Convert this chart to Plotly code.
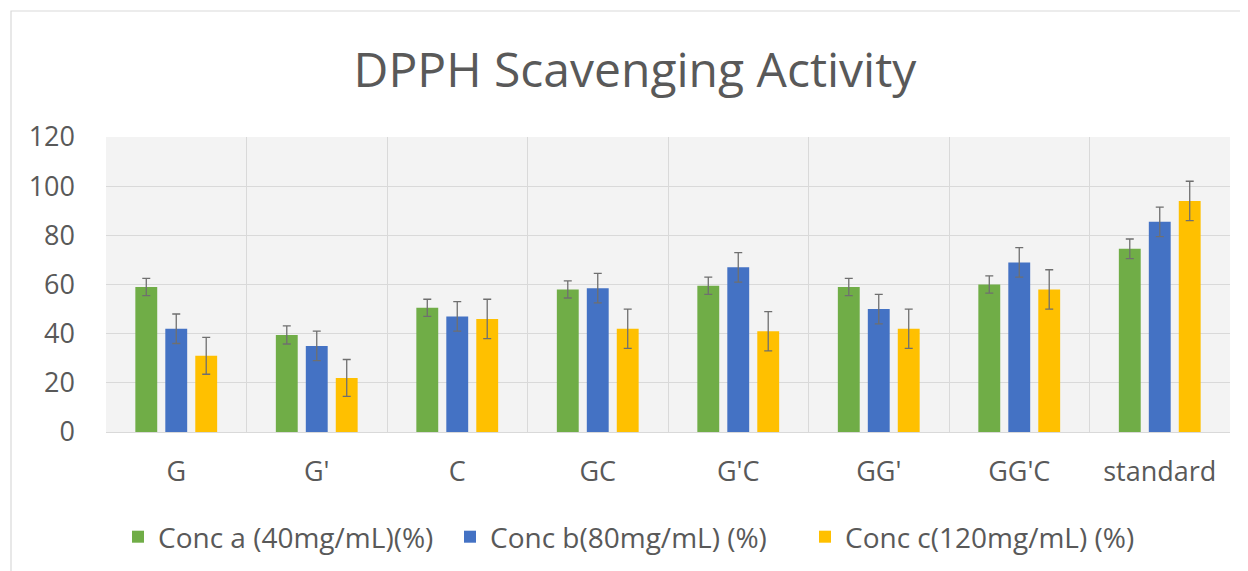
import plotly.graph_objects as go

categories = ["G", "G'", "C", "GC", "G'C", "GG'", "GG'C", "standard"]
conc_a = [59, 39.5, 50.5, 58, 59.5, 59, 60, 74.5]
conc_b = [42, 35, 47, 58.5, 67, 50, 69, 85.5]
conc_c = [31, 22, 46, 42, 41, 42, 58, 94]
err_a = [3.5, 3.7, 3.5, 3.5, 3.5, 3.5, 3.5, 4]
err_b = [6, 6, 6, 6, 6, 6, 6, 6]
err_c = [7.5, 7.5, 8, 8, 8, 8, 8, 8]
series_names = ["Conc a (40mg/mL)(%)", "Conc b(80mg/mL) (%)", "Conc c(120mg/mL) (%)"]
colors = ["#70AD47", "#4472C4", "#FFC000"]

FONT = "Open Sans"
OFF = 8  # default page body margin
W, H = 1248 - OFF, 571 - OFF
L, R, T, B = 106 - OFF, 18, 137 - OFF, 139


def px2x(px):
    return (px - OFF - L) / (W - L - R)


def py2y(py):
    return (H - B - (py - OFF)) / (H - T - B)


legend_ids = ["legend", "legend2", "legend3"]
legend_left_px = [136 - 18, 468 - 18, 823 - 18]

fig = go.Figure()
for name, vals, errs, col, lid in zip(series_names, [conc_a, conc_b, conc_c],
                                      [err_a, err_b, err_c], colors, legend_ids):
    fig.add_trace(go.Bar(
        x=categories, y=vals, name=name, legend=lid, showlegend=True,
        marker=dict(color=col, line=dict(width=0)),
        error_y=dict(type="data", array=errs, visible=True,
                     color="#6f6f6f", thickness=1.3, width=4),
    ))

fig.add_shape(type="rect", xref="paper", yref="paper",
              x0=px2x(11), x1=px2x(1300), y0=py2y(640), y1=py2y(11),
              line=dict(color="#d9d9d9", width=1.2), fillcolor="rgba(0,0,0,0)",
              layer="below")

leg_common = dict(orientation="h", xanchor="left", xref="paper",
                  y=py2y(537), yanchor="middle", yref="paper",
                  font=dict(family=FONT, size=28, color="#595959"),
                  itemwidth=30, bgcolor="rgba(0,0,0,0)", visible=True)

fig.update_layout(
    width=W, height=H,
    showlegend=True,
    margin=dict(l=L, r=R, t=T, b=B, autoexpand=False),
    paper_bgcolor="white",
    plot_bgcolor="#f3f3f3",
    barmode="group",
    bargap=0.36,
    bargroupgap=0.27,
    title=dict(text="DPPH Scavenging Activity", x=(635 - OFF) / W,
               xref="container", xanchor="center",
               y=(H - (70 - OFF)) / H, yanchor="middle",
               font=dict(family=FONT, size=48, color="#595959")),
    font=dict(family=FONT, color="#595959"),
    legend=dict(x=px2x(legend_left_px[0]), **leg_common),
    legend2=dict(x=px2x(legend_left_px[1]), **leg_common),
    legend3=dict(x=px2x(legend_left_px[2]), **leg_common),
    xaxis=dict(tickson="boundaries", showgrid=True, gridcolor="#d9d9d9",
               gridwidth=1, showline=True, linecolor="#d9d9d9", ticks="",
               tickfont=dict(family=FONT, size=27, color="#595959"),
               ticklabelstandoff=16, mirror=False),
    yaxis=dict(range=[0, 120], dtick=20, showgrid=True, gridcolor="#d9d9d9",
               gridwidth=1, zeroline=False, showline=False, ticks="",
               tickfont=dict(family=FONT, size=27, color="#595959"),
               ticklabelstandoff=30),
)

fig.write_html("out.html")
